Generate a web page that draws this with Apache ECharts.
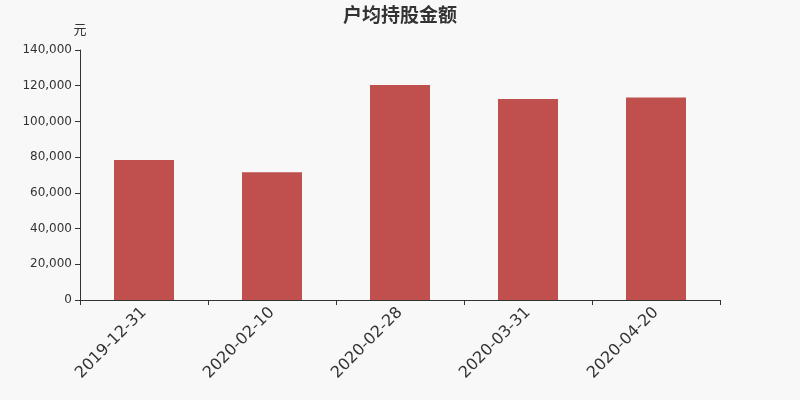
<!DOCTYPE html>
<html><head><meta charset="utf-8">
<script src="https://cdn.jsdelivr.net/npm/echarts@6/dist/echarts.min.js"></script>
<style>html,body{margin:0;padding:0;background:#f8f8f8;}#c{width:800px;height:400px;}</style>
</head><body><div id="c"></div>
<script>
const categories = ['2019-12-31','2020-02-10','2020-02-28','2020-03-31','2020-04-20'];
const values = [78400, 71600, 120400, 112600, 113400];
const chart = echarts.init(document.getElementById('c'));
chart.setOption({
  backgroundColor:'#f8f8f8',
  animation:false,
  title:{text:'户均持股金额',left:'center',top:0,textStyle:{fontSize:19,fontWeight:'bold',color:'#333',fontFamily:'Noto Sans CJK SC'}},
  grid:{left:80,right:80,top:50,bottom:100},
  xAxis:{type:'category',data:categories,
    axisLine:{lineStyle:{color:'#333'}},
    axisTick:{show:true,alignWithLabel:false,length:5,lineStyle:{color:'#333'}},
    axisLabel:{rotate:45,fontSize:16,margin:10,color:'#333',fontFamily:'DejaVu Sans',interval:0}},
  yAxis:{type:'value',min:0,max:140000,interval:20000,name:'元',
    nameTextStyle:{color:'#333',fontSize:13,fontFamily:'Noto Sans CJK SC',padding:[0,0,0,0]},
    nameGap:14,
    axisLine:{show:true,lineStyle:{color:'#333'}},
    axisTick:{show:true,length:5,lineStyle:{color:'#333'}},
    splitLine:{show:false},
    axisLabel:{fontSize:12,margin:8,color:'#333',fontFamily:'DejaVu Sans',
      formatter:v=>v.toLocaleString('en-US')}},
  series:[{type:'bar',data:values,barWidth:60,itemStyle:{color:'#c0504e'}}]
});
</script></body></html>
